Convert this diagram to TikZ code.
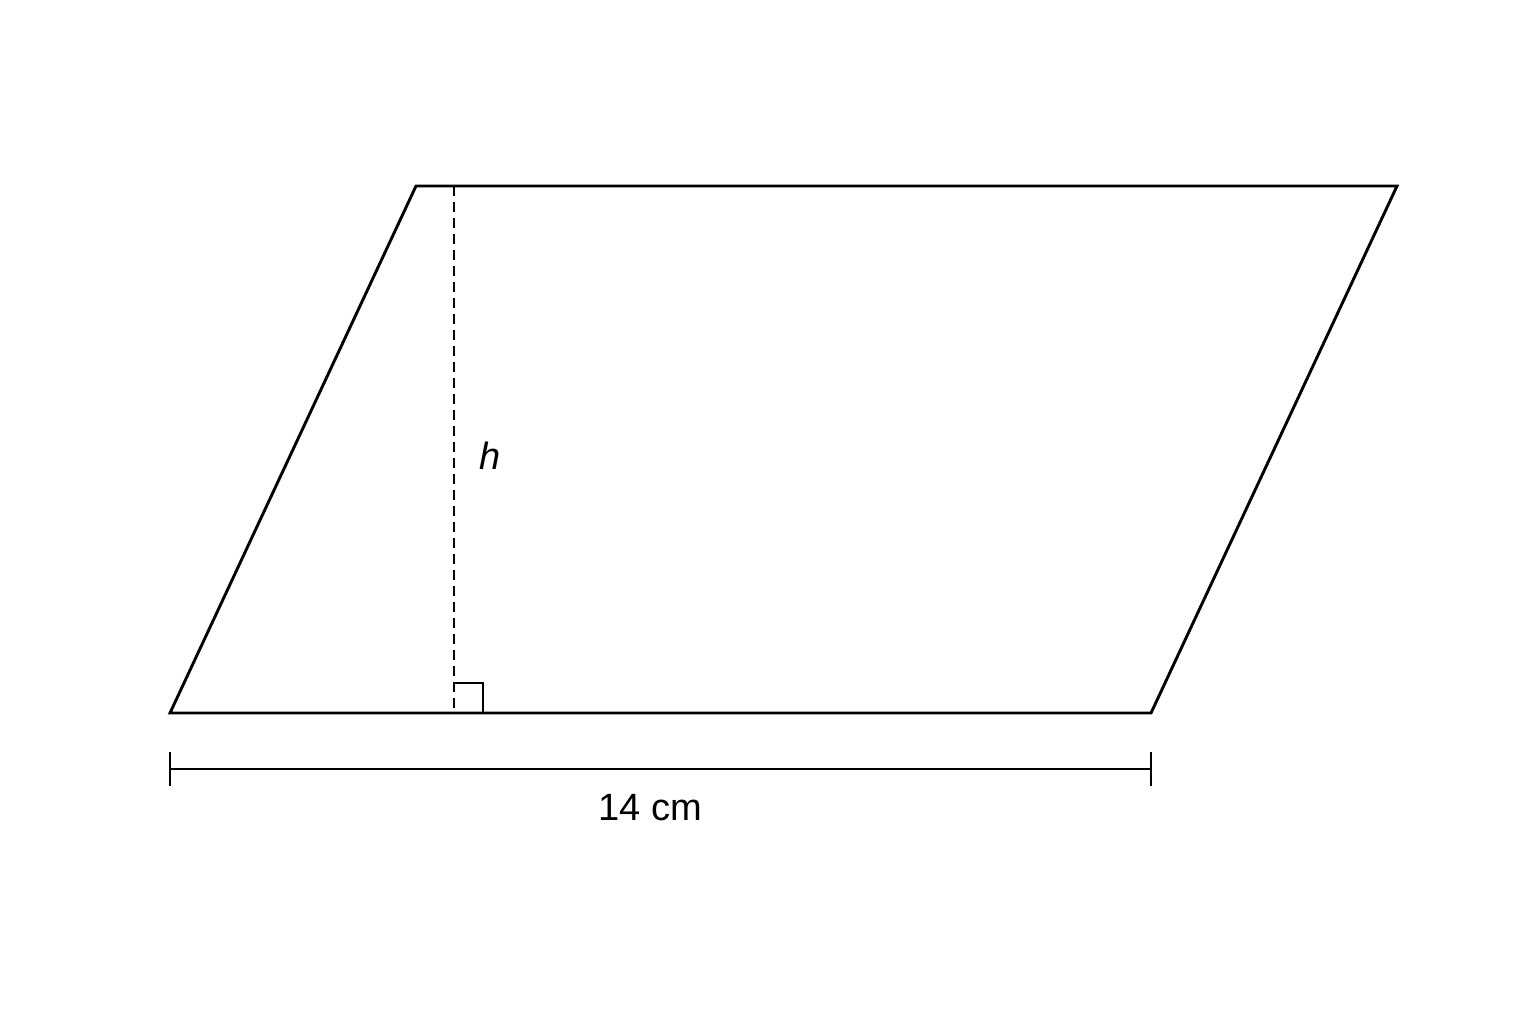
\documentclass[tikz,border=0pt]{standalone}
\usepackage{fontspec}
\setmainfont{Liberation Sans}
\usetikzlibrary{positioning}
\tikzset{%
edgeline/.style={draw,line width=2.9pt,line join=miter},
heightline/.style={draw,line width=2.4pt,dash pattern=on 10pt off 6pt},
dimline/.style={draw,line width=2.5pt},
figlabel/.style={font=\fontsize{38}{44}\selectfont,inner sep=0pt}
}
\begin{document}
\begin{tikzpicture}[x=1pt,y=-1pt]
    \useasboundingbox (0,0) rectangle (1536,1024);

    \coordinate (bl) at (170,713);
    \coordinate (br) at (1151,713);
    \coordinate (tr) at (1397,186);
    \coordinate (tl) at (416,186);
    \coordinate (htop) at (454,186);
    \coordinate (hfoot) at (454,713);

    \path[edgeline] (bl) -- (br) -- (tr) -- (tl) -- cycle;
    \path[heightline] (htop) -- (hfoot);
    \path[dimline] (454,683) -- (483,683) -- (483,713);

    % base dimension
    \coordinate (dl) at (170,769);
    \coordinate (dr) at (1151,769);
    \path[dimline] (dl) -- (dr);
    \path[dimline] ([yshift=-17pt]dl) -- ([yshift=17pt]dl);
    \path[dimline] ([yshift=-17pt]dr) -- ([yshift=17pt]dr);

    \node[figlabel] (base) at (650,808) {14 cm};
    \node[figlabel] (hgt) at (490,456) {\itshape h};
\end{tikzpicture}
\end{document}
